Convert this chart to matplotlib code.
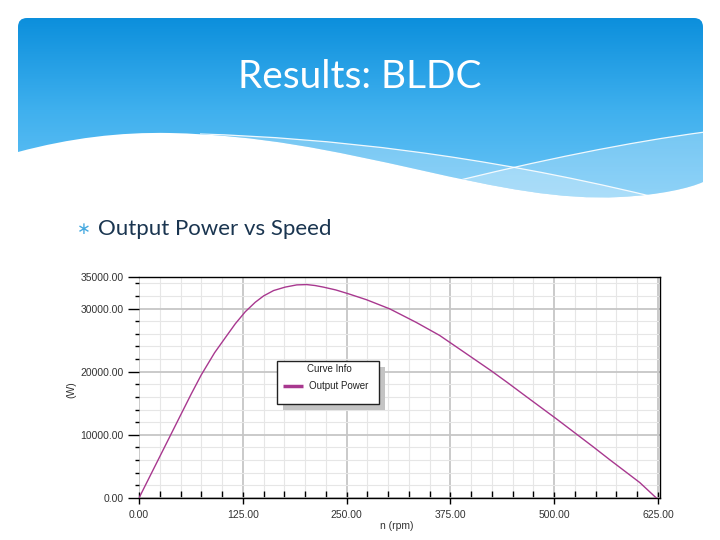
import numpy as np
import matplotlib.pyplot as plt
from matplotlib.path import Path
from matplotlib.patches import PathPatch, Rectangle
from matplotlib.colors import LinearSegmentedColormap
from matplotlib.ticker import MultipleLocator, FixedLocator, FormatStrFormatter

# values
speed = [0, 25, 50, 63, 75, 91, 104, 116, 128, 140, 150, 162, 176, 190,
         202, 212, 222, 237, 252, 274, 302, 334, 362, 387, 423, 443, 467, 503,
         523, 547, 567, 587, 603, 623]
power = [0, 6550, 13100, 16500, 19500, 23000, 25400, 27600, 29500, 31000,
         32000, 32850, 33400, 33750, 33800, 33650, 33400, 32950, 32350, 31400,
         29950, 27800, 25750, 23500, 20250, 18350, 16000, 12500, 10500, 8100,
         6050, 4050, 2450, 0]

x_ticks = [0, 125, 250, 375, 500, 625]
y_ticks = [0, 10000, 20000, 30000, 35000]

slide_title = "Results: BLDC"
bullet_text = "Output Power vs Speed"
legend_title = "Curve Info"
series_name = "Output Power"
x_label = "n (rpm)"
y_label = "(W)"

line_color = "#a8388f"
tick_font = "Liberation Sans"

fig = plt.figure(figsize=(7.2, 5.4), dpi=100)
fig.patch.set_facecolor("white")

# slide background, pixel coordinates
bg = fig.add_axes([0, 0, 1, 1])
bg.set_xlim(0, 720)
bg.set_ylim(540, 0)
bg.axis("off")

# banner with wavy bottom edge
r = 9
banner_verts = [(18, 152), (18, 18 + r), (18, 18), (18 + r, 18), (703 - r, 18),
                (703, 18), (703, 18 + r), (703, 182),
                (690, 188), (660, 195), (620, 197),
                (560, 200), (500, 188), (420, 170),
                (330, 150), (260, 135), (170, 133),
                (120, 132), (70, 138), (18, 152), (18, 152)]
banner_codes = [Path.MOVETO, Path.LINETO, Path.CURVE3, Path.CURVE3, Path.LINETO,
                Path.CURVE3, Path.CURVE3, Path.LINETO,
                Path.CURVE4, Path.CURVE4, Path.CURVE4,
                Path.CURVE4, Path.CURVE4, Path.CURVE4,
                Path.CURVE4, Path.CURVE4, Path.CURVE4,
                Path.CURVE4, Path.CURVE4, Path.CURVE4, Path.CLOSEPOLY]
banner = PathPatch(Path(banner_verts, banner_codes), facecolor="none", edgecolor="none")
bg.add_patch(banner)

cmap = LinearSegmentedColormap.from_list("banner", ["#0c8fdc", "#3fb0ee", "#6cc5f6"])
grad = np.linspace(0, 1, 256).reshape(-1, 1)
img = bg.imshow(grad, extent=[18, 703, 202, 18], cmap=cmap, aspect="auto",
                origin="upper", zorder=1)
img.set_clip_path(banner)

# paler bands and thin white lines near the wave
band_a = Path([(200, 134), (330, 138), (480, 155), (650, 196), (720, 260), (200, 260), (200, 134)],
              [Path.MOVETO, Path.CURVE4, Path.CURVE4, Path.CURVE4, Path.LINETO, Path.LINETO, Path.CLOSEPOLY])
band_b = Path([(440, 185), (540, 160), (630, 142), (705, 132), (720, 260), (440, 260), (440, 185)],
              [Path.MOVETO, Path.CURVE4, Path.CURVE4, Path.CURVE4, Path.LINETO, Path.LINETO, Path.CLOSEPOLY])
for p in (band_a, band_b):
    pp = PathPatch(p, facecolor="white", edgecolor="none", alpha=0.25, zorder=2)
    bg.add_patch(pp)
    pp.set_clip_path(banner)
line_a = Path([(200, 134), (330, 138), (480, 155), (650, 196)],
              [Path.MOVETO, Path.CURVE4, Path.CURVE4, Path.CURVE4])
line_b = Path([(440, 185), (540, 160), (630, 142), (705, 132)],
              [Path.MOVETO, Path.CURVE4, Path.CURVE4, Path.CURVE4])
for p in (line_a, line_b):
    pl = PathPatch(p, facecolor="none", edgecolor="white", lw=0.9, alpha=0.9, zorder=3)
    bg.add_patch(pl)
    pl.set_clip_path(banner)

bg.text(360, 77, slide_title, color="white", fontsize=28, family="Lato",
        ha="center", va="center", zorder=4)
bg.text(84, 229, "\u2217", color="#45a9e0", fontsize=12, family="DejaVu Sans",
        ha="center", va="center")
bg.text(98, 229, bullet_text, color="#1a3550", fontsize=16, family="Lato",
        ha="left", va="center")

# chart
ax = fig.add_axes([139 / 720, 1 - 498 / 540, (660 - 139) / 720, (498 - 277) / 540])
ax.set_facecolor("white")
ax.set_xlim(0, 627.4)
ax.set_ylim(0, 35000)

ax.plot(speed, power, color=line_color, lw=1.0, zorder=3)

ax.xaxis.set_major_locator(FixedLocator(x_ticks))
ax.xaxis.set_minor_locator(MultipleLocator(25))
ax.yaxis.set_major_locator(FixedLocator(y_ticks))
ax.yaxis.set_minor_locator(MultipleLocator(2000))
ax.xaxis.set_major_formatter(FormatStrFormatter("%.2f"))
ax.yaxis.set_major_formatter(FormatStrFormatter("%.2f"))

ax.grid(which="minor", color="#e6e6e6", lw=0.8, zorder=0)
ax.grid(which="major", color="#c6c6c6", lw=1.3, zorder=0)
ax.set_axisbelow(True)

for side in ("top", "right", "bottom"):
    ax.spines[side].set_color("black")
    ax.spines[side].set_linewidth(1.0)
ax.spines["left"].set_visible(False)

ax.tick_params(axis="y", which="major", direction="out", length=8, width=1,
               pad=3, labelsize=7.5, labelcolor="#333333")
ax.tick_params(axis="y", which="minor", direction="out", length=3, width=1)
ax.tick_params(axis="x", which="major", direction="inout", length=8, width=1,
               pad=5, labelsize=7.5, labelcolor="#333333")
ax.tick_params(axis="x", which="minor", direction="in", length=5, width=1)
for lab in ax.get_xticklabels() + ax.get_yticklabels():
    lab.set_family(tick_font)

ax.set_xlabel(x_label, fontsize=7.5, color="#333333", family=tick_font)
ax.set_ylabel(y_label, fontsize=7.5, color="#333333", family=tick_font)
ax.xaxis.set_label_coords((397 - 139) / 521, -(521 - 498) / 221)
ax.yaxis.set_label_coords((76 - 139) / 521, (498 - 390) / 221)

# legend box, pixel coordinates
ov = fig.add_axes([0, 0, 1, 1], zorder=5)
ov.set_xlim(0, 720)
ov.set_ylim(540, 0)
ov.axis("off")
ov.patch.set_alpha(0)
ov.add_patch(Rectangle((283, 367), 102, 43, facecolor="#c4c4c4", edgecolor="none"))
ov.add_patch(Rectangle((277, 361), 102, 43, facecolor="white", edgecolor="#222222", lw=1))
ov.text(329, 369.5, legend_title, fontsize=7, family=tick_font, color="#222222",
        ha="center", va="center")
ov.plot([283, 303], [386, 386], color=line_color, lw=2.5, solid_capstyle="butt")
ov.text(309, 386, series_name, fontsize=7, family=tick_font, color="#222222",
        ha="left", va="center")

fig.savefig("out.png", dpi=100)
